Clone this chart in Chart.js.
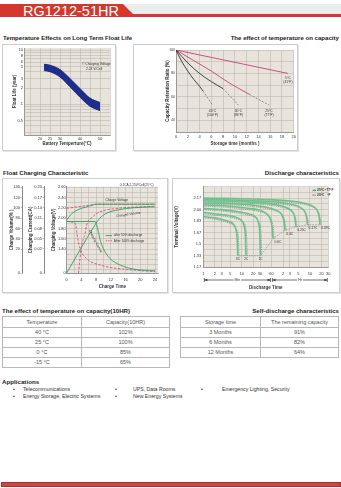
<!DOCTYPE html>
<html>
<head>
<meta charset="utf-8">
<script src="https://cdn.jsdelivr.net/npm/chart.js@4.4.1/dist/chart.umd.min.js"></script>
<style>
  body { margin: 0; width: 341px; height: 488px; position: relative; overflow: hidden; background: #fff;
         font-family: "Liberation Sans", Arial, sans-serif; color: #222; }
  .a { position: absolute; }
  .grey-bar { left: 0; top: 4px; width: 341px; height: 10px; background: #ececec; }
  .red-bar { left: 0; top: 4px; width: 341px; height: 13px; background: #d6372c;
             clip-path: polygon(0 0, 123px 0, 133px 10px, 341px 10px, 341px 13px, 0 13px); }
  .model { left: 23px; top: 3.5px; font-size: 14.5px; line-height: 15px; color: #fff; }
  .sec { font-size: 6.1px; font-weight: bold; white-space: nowrap; line-height: 7px; }
  .box { border: 1px solid #cdcdcd; box-shadow: 1px 1px 0 #e4e4e4; background: #fff; box-sizing: border-box; }
  canvas { position: absolute; }
  table { position: absolute; border-collapse: collapse; font-size: 5.5px; color: #555; border: 1px solid #999; }
  td { border: 1px solid #b8b8b8; text-align: center; padding: 0; height: 9px; line-height: 9px; }
  .app { font-size: 5.2px; color: #333; white-space: nowrap; line-height: 7px; }
  .foot { left: 1px; top: 482px; width: 338px; height: 3px; background: #cf4444; border: 1px solid #a83030; }
</style>
</head>
<body>
<div class="a grey-bar"></div>
<div class="a red-bar"></div>
<div class="a model">RG1212-51HR</div>

<div class="a sec" style="left:3px;top:34px">Temperature Effects on Long Term Float Life</div>
<div class="a sec" style="right:2px;top:34px">The effect of temperature on capacity</div>
<div class="a box" style="left:2px;top:44px;width:114px;height:107px"></div>
<div class="a box" style="left:133px;top:44px;width:165px;height:107px"></div>
<canvas id="life" width="114" height="107" style="left:2px;top:44px"></canvas>
<canvas id="retention" width="165" height="107" style="left:133px;top:44px"></canvas>

<div class="a sec" style="left:3px;top:168.5px">Float Charging Characteristic</div>
<div class="a sec" style="right:2px;top:168.5px">Discharge characteristics</div>
<div class="a box" style="left:2px;top:178px;width:166px;height:115px"></div>
<div class="a box" style="left:172px;top:178px;width:168px;height:115px"></div>
<canvas id="charging" width="166" height="116" style="left:2px;top:177px"></canvas>
<canvas id="discharge" width="168" height="116" style="left:172px;top:177px"></canvas>

<div class="a sec" style="left:2px;top:307px">The effect of temperature on capacity(10HR)</div>
<div class="a sec" style="right:2px;top:307px">Self-discharge characteristics</div>
<table id="tempTable" style="left:2px;top:316px;width:168px"></table>
<table id="selfTable" style="left:180px;top:316px;width:159px"></table>

<div class="a sec" style="left:2px;top:378px;font-size:6.2px">Applications</div>
<div id="apps"></div>
<div class="a foot"></div>

<script>
// ---------- data ----------
// float life band (years) vs battery temperature
const lifeTemp = [22, 25, 30, 35, 40, 45, 50];
const lifeHigh = [5.5, 5.3, 4.4, 3.0, 1.95, 1.3, 1.08];
const lifeLow = [4.2, 4.0, 3.2, 2.1, 1.35, 0.92, 0.76];
const lifeXLabels = [20, 25, 30, 40, 50];
const lifeYLabels = [0.5, 1, 2, 3, 5, 6, 8, 10];

// capacity retention (%) vs storage months
const r40Months = [0, 1, 2, 3, 4, 4.6], r40Solid = [100, 90, 82, 75, 69, 65];
const r40DashMonths = [4.6, 6.2], r40Dash = [65, 53];
const r30Months = [0, 2, 4, 6, 8], r30Solid = [100, 89, 80, 73, 67];
const r30DashMonths = [8, 10.6], r30Dash = [67, 53];
const r25Months = [0, 3, 6, 9, 12.5], r25Solid = [100, 91, 82, 72, 62];
const r25DashMonths = [12.5, 15.8], r25Dash = [62, 53];
const r5Months = [0, 19], r5Solid = [100, 80];
const retLabels = ["40°C\n(104°F)", "30°C\n(86°F)", "25°C\n(77°F)", "5°C\n(41°F)"];

// float charging: hours, voltage (V/cell), current (CA), charged volume (%)
const chgHours50V = [0, 1, 2, 3, 4, 5, 6, 7, 8, 24];
const chgVolt50 = [1.96, 2.06, 2.12, 2.16, 2.19, 2.21, 2.23, 2.25, 2.27, 2.27];
const chgHours100V = [0, 2, 4, 6, 8, 24];
const chgVolt100 = [2.19, 2.21, 2.23, 2.25, 2.27, 2.27];
const chgHours50I = [0, 7.7, 8.5, 9, 9.9, 11.8, 14.5, 18, 24];
const chgCurr50 = [0.1, 0.1, 0.075, 0.05, 0.022, 0.012, 0.0067, 0.0033, 0.0018];
const chgHours100I = [0, 2.3, 3, 3.6, 5.4, 9, 18, 24];
const chgCurr100 = [0.1, 0.095, 0.05, 0.022, 0.012, 0.0067, 0.0025, 0.0012];
const chgHours50Q = [0, 7.7, 9, 11, 14, 18, 24];
const chgVol50 = [0, 67, 80, 90, 96, 100, 102];
const chgHours100Q = [3.2, 4, 5, 5.4, 7, 9, 14, 24];
const chgVol100 = [0, 25, 50, 66, 82, 92, 99, 103];

// discharge: minutes / volts per cell, one list per rate
const dcRates = ["3C", "2C", "1C", "0.6C", "0.4C", "0.25C", "0.17C", "0.09C"];
const dc25 = [
  [[1,1.90],[2,1.88],[3,1.86],[4.5,1.83],[6,1.79],[7,1.72],[7.6,1.58],[7.9,1.33]],
  [[1,1.96],[2,1.94],[4,1.92],[7,1.89],[10,1.84],[11.5,1.77],[12.5,1.60],[12.9,1.33]],
  [[1,2.02],[3,2.00],[8,1.97],[15,1.94],[22,1.90],[27,1.82],[29.5,1.65],[30.5,1.33]],
  [[1,2.07],[5,2.05],[15,2.02],[30,1.99],[45,1.94],[56,1.86],[62,1.74],[65,1.58]],
  [[1,2.10],[10,2.08],[40,2.04],[80,1.99],[110,1.93],[124,1.85],[131,1.76],[134,1.70]],
  [[1,2.13],[15,2.11],[80,2.07],[160,2.02],[215,1.96],[240,1.89],[252,1.81],[258,1.75]],
  [[1,2.15],[20,2.13],[150,2.09],[320,2.04],[430,1.98],[480,1.91],[502,1.84],[512,1.78]],
  [[1,2.17],[30,2.15],[300,2.11],[650,2.06],[900,2.00],[1010,1.93],[1065,1.85],[1090,1.78]]
];
const dc20 = [
  [[1,1.88],[2,1.86],[3,1.84],[4.5,1.81],[6,1.78],[7.2,1.72],[8.2,1.58],[8.5,1.33]],
  [[1,1.94],[2,1.92],[4,1.90],[7,1.87],[10.5,1.83],[12.5,1.76],[13.5,1.60],[14,1.33]],
  [[1,2.00],[3,1.98],[8,1.95],[15,1.92],[23,1.88],[29,1.80],[32,1.65],[33,1.33]],
  [[1,2.05],[5,2.03],[15,2.00],[30,1.97],[48,1.92],[60,1.84],[67,1.72],[70,1.57]],
  [[1,2.08],[10,2.06],[40,2.02],[85,1.97],[118,1.91],[133,1.83],[140,1.75],[143,1.69]],
  [[1,2.11],[15,2.09],[80,2.05],[170,2.00],[228,1.94],[255,1.87],[268,1.80],[274,1.74]],
  [[1,2.13],[20,2.11],[150,2.07],[340,2.02],[455,1.96],[510,1.89],[535,1.83],[545,1.77]],
  [[1,2.15],[30,2.13],[300,2.09],[690,2.04],[960,1.98],[1080,1.91],[1140,1.84],[1165,1.77]]
];
const dcCutoff = [[8,1.33],[13,1.33],[31,1.33],[66,1.58],[134,1.70],[258,1.75],[512,1.78],[1090,1.78]];
const dcTicks = [1, 2, 3, 5, 10, 20, 30, 60, 120, 180, 300, 600, 1200, 1800];
const dcTickText = ["1", "2", "3", "5", "10", "20", "30", "60", "2", "3", "5", "10", "20", "30"];

// tables
const tempRows = [["40 °C", "102%"], ["25 °C", "100%"], ["0 °C", "85%"], ["-15 °C", "65%"]];
const selfRows = [["3 Months", "91%"], ["6 Months", "82%"], ["12 Months", "64%"]];
const apps = [["Telecommunications", "UPS, Data Rooms", "Emergency Lighting, Security"],
              ["Energy Storage, Electric Systems", "New Energy Systems"]];

// ---------- helpers ----------
const FONT = '"Liberation Sans", Arial, sans-serif';
const PLOT_BG = "#e8e4dc";
const GRID = "#b4b0a8";
Chart.defaults.font.family = FONT;
Chart.defaults.color = "#333";
Chart.defaults.animation = false;
Chart.defaults.plugins.legend.display = false;
Chart.defaults.plugins.tooltip.enabled = false;
Chart.defaults.elements.point.radius = 0;

const plotBg = {
  id: "plotBg",
  beforeDraw(chart) {
    const a = chart.chartArea, ctx = chart.ctx;
    ctx.save();
    ctx.fillStyle = PLOT_BG;
    ctx.fillRect(a.left, a.top, a.right - a.left, a.bottom - a.top);
    ctx.restore();
  }
};

const notes = {
  id: "notes",
  afterDraw(chart, args, opts) {
    const ctx = chart.ctx;
    (opts.items || []).forEach(n => {
      const xs = chart.scales[n.xAxis || "x"], ys = chart.scales[n.yAxis || "y"];
      const px = v => xs.getPixelForValue(v);
      const py = v => n.below != null ? chart.chartArea.bottom + n.below : ys.getPixelForValue(v);
      ctx.save();
      ctx.strokeStyle = ctx.fillStyle = n.color || "#333";
      ctx.lineWidth = n.width || 0.7;
      if (n.line) {
        ctx.setLineDash(n.dash || []);
        ctx.beginPath();
        ctx.moveTo(px(n.line[0]), py(n.line[1]));
        ctx.lineTo(px(n.line[2]), py(n.line[3]));
        ctx.stroke();
        ctx.setLineDash([]);
      }
      if (n.arrow) {
        const x1 = px(n.arrow[0]) + 1, x2 = px(n.arrow[1]) - 1, y = py(0);
        ctx.beginPath();
        ctx.moveTo(x1, y); ctx.lineTo(x2, y);
        ctx.moveTo(x1, y - 2); ctx.lineTo(x1, y + 2);
        ctx.moveTo(x2, y - 2); ctx.lineTo(x2, y + 2);
        ctx.stroke();
        ctx.beginPath();
        ctx.moveTo(x1, y); ctx.lineTo(x1 + 3, y - 1.3); ctx.lineTo(x1 + 3, y + 1.3);
        ctx.moveTo(x2, y); ctx.lineTo(x2 - 3, y - 1.3); ctx.lineTo(x2 - 3, y + 1.3);
        ctx.fill();
      }
      if (n.text) {
        const size = n.size || 3.5;
        ctx.font = (n.bold ? "bold " : "") + size + "px " + FONT;
        ctx.textAlign = n.align || "left";
        ctx.textBaseline = "middle";
        ctx.translate(px(n.x), py(n.y));
        ctx.rotate((n.rot || 0) * Math.PI / 180);
        n.text.split("\n").forEach((t, i) => {
          if (n.bg) {
            const w = ctx.measureText(t).width + 2;
            const left = ctx.textAlign === "center" ? -w / 2 : (ctx.textAlign === "right" ? -w : 0);
            ctx.fillStyle = n.bg;
            ctx.fillRect(left, i * size * 1.15 - size / 2 - 0.5, w, size + 1);
            ctx.fillStyle = n.color || "#333";
          }
          ctx.fillText(t, 0, i * size * 1.15);
        });
      }
      ctx.restore();
    });
  }
};
Chart.register(plotBg, notes);

const pts = (xs, ys) => xs.map((x, i) => ({x: x, y: ys[i]}));
const tickFont = {size: 4};
const titleFont = {size: 4.5, weight: "bold"};
const fixWidth = w => s => { s.width = w; };
const fixHeight = h => s => { s.height = h; };
const setTicks = list => s => { s.ticks = list.map(v => ({value: v})); };

// ---------- chart 1: float life ----------
new Chart(document.getElementById("life"), {
  type: "line",
  data: {
    datasets: [
      {data: pts(lifeTemp, lifeHigh), borderColor: "#0f1a66", borderWidth: 0.8, fill: false,
       cubicInterpolationMode: "monotone"},
      {data: pts(lifeTemp, lifeLow), borderColor: "#0f1a66", borderWidth: 0.8, fill: "-1",
       backgroundColor: "#1f2d8e", cubicInterpolationMode: "monotone"}
    ]
  },
  options: {
    responsive: false,
    layout: {padding: {top: 4, right: 6, left: 0, bottom: 0}},
    scales: {
      x: {
        type: "linear", min: 12, max: 55,
        afterBuildTicks: setTicks([15, 20, 25, 30, 35, 40, 45, 50, 55]),
        afterFit: fixHeight(16),
        ticks: {font: tickFont, padding: 1, maxRotation: 0, autoSkip: false,
                callback: v => lifeXLabels.includes(v) ? v : ""},
        grid: {color: GRID, lineWidth: 0.5, drawTicks: false},
        border: {color: "#999"},
        title: {display: true, text: "Battery Temperture(°C)", font: titleFont, padding: {top: 0, bottom: 5}}
      },
      y: {
        type: "logarithmic", min: 0.27, max: 11,
        afterBuildTicks: setTicks([0.3, 0.4, 0.5, 0.6, 0.7, 0.8, 0.9, 1, 2, 3, 4, 5, 6, 7, 8, 9, 10]),
        afterFit: fixWidth(22),
        ticks: {font: tickFont, padding: 1, autoSkip: false,
                callback: v => lifeYLabels.includes(v) ? v : ""},
        grid: {color: GRID, lineWidth: 0.5, drawTicks: false},
        border: {color: "#999"},
        title: {display: true, text: "Float Life (year)", font: titleFont, padding: {top: 10, bottom: 0}}
      }
    },
    plugins: {
      notes: {items: [
        {x: 41, y: 5.6, text: "© Charging Voltage", size: 3.3},
        {x: 43, y: 4.4, text: "2.23 V/Cell", size: 3.3}
      ]}
    }
  }
});

// ---------- chart 2: capacity retention ----------
const pink = "#c8407a", dark = "#333";
const solidLine = (m, v, c) => ({data: pts(m, v), borderColor: c, borderWidth: 0.9, cubicInterpolationMode: "monotone"});
const dashLine = (m, v) => ({data: pts(m, v), borderColor: "#666", borderWidth: 0.7, borderDash: [2, 1.5]});
new Chart(document.getElementById("retention"), {
  type: "line",
  data: {
    datasets: [
      solidLine(r40Months, r40Solid, dark), dashLine(r40DashMonths, r40Dash),
      solidLine(r30Months, r30Solid, dark), dashLine(r30DashMonths, r30Dash),
      solidLine(r25Months, r25Solid, pink), dashLine(r25DashMonths, r25Dash),
      solidLine(r5Months, r5Solid, pink)
    ]
  },
  options: {
    responsive: false,
    layout: {padding: {top: 6, right: 4, left: 31, bottom: 0}},
    scales: {
      x: {
        type: "linear", min: 0, max: 20,
        afterBuildTicks: setTicks([0, 2, 4, 6, 8, 10, 12, 14, 16, 18, 20]),
        afterFit: fixHeight(19),
        ticks: {font: tickFont, padding: 2, maxRotation: 0, autoSkip: false},
        grid: {color: GRID, lineWidth: 0.5, drawTicks: false},
        border: {color: "#999"},
        title: {display: true, text: "Storage time (months )", font: titleFont, padding: {top: 0, bottom: 5}}
      },
      y: {
        type: "linear", min: 30, max: 100,
        afterBuildTicks: setTicks([30, 40, 50, 60, 70, 80, 90, 100]),
        afterFit: fixWidth(12),
        ticks: {font: {size: 3.5}, padding: 1, autoSkip: false,
                callback: v => [100, 80, 60, 40].includes(v) ? v : ""},
        grid: {color: GRID, lineWidth: 0.5, drawTicks: false},
        border: {color: "#999"},
        title: {display: true, text: "Capacity Retention Ratio (%)", font: titleFont, padding: {top: 1, bottom: 0}}
      }
    },
    plugins: {
      notes: {items: [
        {x: r40DashMonths[1], y: 48, text: retLabels[0], align: "center", size: 3.3},
        {x: r30DashMonths[1], y: 48, text: retLabels[1], align: "center", size: 3.3},
        {x: r25DashMonths[1], y: 48, text: retLabels[2], align: "center", size: 3.3},
        {x: r5Months[1], y: 76, text: retLabels[3], align: "center", size: 3.3}
      ]}
    }
  }
});

// ---------- chart 3: float charging ----------
const VMIN = 0.934, VMAX = 2.61, QMIN = -26.6, QMAX = 141, IMIN = -0.05, IMAX = 0.2015;
// axis is broken below its lowest labelled value: squeeze 0..lo into the bottom gap
const brk = (v, lo, min) => v >= lo ? v : min + (v / lo) * (lo - min);
const green = "#2f9e5a", rose = "#d2507e";
const chgLine = (xs, ys, axis, dashed) => ({
  data: pts(xs, ys), yAxisID: axis, borderColor: dashed ? rose : green,
  borderWidth: 0.9, borderDash: dashed ? [2.5, 1.5] : [], cubicInterpolationMode: "monotone"
});
new Chart(document.getElementById("charging"), {
  type: "line",
  data: {
    datasets: [
      chgLine(chgHours50V, chgVolt50, "volt", false),
      chgLine(chgHours100V, chgVolt100, "volt", true),
      chgLine(chgHours50I, chgCurr50.map(v => brk(v, 0.02, IMIN)), "curr", false),
      chgLine(chgHours100I, chgCurr100.map(v => brk(v, 0.02, IMIN)), "curr", true),
      chgLine(chgHours50Q, chgVol50.map(v => brk(v, 20, QMIN)), "vol", false),
      chgLine(chgHours100Q, chgVol100.map(v => brk(v, 20, QMIN)), "vol", true)
    ]
  },
  options: {
    responsive: false,
    layout: {padding: {top: 9.7, right: 10, left: 0, bottom: 0}},
    scales: {
      x: {
        type: "linear", min: 0, max: 24.8,
        afterBuildTicks: setTicks([0, 2, 4, 6, 8, 10, 12, 14, 16, 18, 20, 22, 24]),
        afterFit: fixHeight(20),
        ticks: {font: tickFont, padding: 4, maxRotation: 0, autoSkip: false,
                callback: v => v % 4 === 0 ? v : ""},
        grid: {color: GRID, lineWidth: 0.5, drawTicks: false},
        border: {color: "#999"},
        title: {display: true, text: "Charge Time", font: titleFont, padding: {top: 0, bottom: 3.6}}
      },
      volt: {
        type: "linear", position: "left", weight: 0, min: VMIN, max: VMAX,
        afterBuildTicks: setTicks([VMIN, 1.0, 1.1, 1.2, 1.3, 1.4, 1.5, 1.6, 1.7, 1.8, 1.9, 2.0, 2.1, 2.2, 2.3, 2.4, 2.5, 2.6]),
        afterFit: fixWidth(22.7),
        ticks: {font: tickFont, padding: 1, autoSkip: false,
                callback: v => v === VMIN ? "0" : (Math.round(v * 10) % 2 === 0 && v >= 1.39 ? v.toFixed(2) : "")},
        grid: {color: GRID, lineWidth: 0.5, drawTicks: false},
        border: {color: "#999"},
        title: {display: true, text: "Charging Voltage(V)", font: titleFont, padding: {top: 6.6, bottom: 0}}
      },
      curr: {
        type: "linear", position: "left", weight: 1, min: IMIN, max: IMAX,
        afterBuildTicks: setTicks([IMIN, 0.02, 0.05, 0.08, 0.11, 0.14, 0.17, 0.20]),
        afterFit: fixWidth(22),
        ticks: {font: tickFont, padding: 0.5, autoSkip: false,
                callback: v => v === IMIN ? "0" : v.toFixed(2)},
        grid: {drawOnChartArea: false, drawTicks: true, tickLength: 1.5, color: "#888", lineWidth: 0.5},
        border: {color: "#888"},
        title: {display: true, text: "Charging Current(CA)", font: titleFont, padding: {top: 6, bottom: 0}}
      },
      vol: {
        type: "linear", position: "left", weight: 2, min: QMIN, max: QMAX,
        afterBuildTicks: setTicks([QMIN, 20, 40, 60, 80, 100, 120, 140]),
        afterFit: fixWidth(20),
        ticks: {font: tickFont, padding: 0.5, autoSkip: false,
                callback: v => v === QMIN ? "0" : v},
        grid: {drawOnChartArea: false, drawTicks: true, tickLength: 1.5, color: "#888", lineWidth: 0.5},
        border: {color: "#888"},
        title: {display: true, text: "Charge Volume(% )", font: titleFont, padding: {top: 7, bottom: 0}}
      }
    },
    plugins: {
      notes: {items: [
        {x: 19, y: 2.64, yAxis: "volt", text: "0.1CA,2.25V/Cell(25°C)", align: "center", size: 3.2},
        {x: 13.6, y: 2.35, yAxis: "volt", text: "Charge Voltage", align: "center", size: 3.3},
        {x: 16.7, y: 2.07, yAxis: "volt", text: "Charged Volume", align: "center", size: 3.3, rot: -8},
        {x: 7.8, y: 1.55, yAxis: "volt", text: "Charging Current", align: "center", size: 3.3, rot: 62},
        {line: [10.6, 1.66, 12.3, 1.66], yAxis: "volt", color: green, width: 0.9},
        {x: 12.8, y: 1.66, yAxis: "volt", text: "after 50% discharge", size: 3.2},
        {line: [10.6, 1.56, 12.3, 1.56], yAxis: "volt", color: rose, width: 0.9, dash: [1.5, 1]},
        {x: 12.8, y: 1.56, yAxis: "volt", text: "After 100% discharge", size: 3.2}
      ]}
    }
  }
});

// ---------- chart 4: discharge ----------
const dcSets = [];
dc25.forEach(c => dcSets.push({data: c.map(p => ({x: p[0], y: p[1]})), borderColor: "#6cc28a",
  borderWidth: 1.6, cubicInterpolationMode: "monotone"}));
dc20.forEach(c => dcSets.push({data: c.map(p => ({x: p[0], y: p[1]})), borderColor: "#7a7a7a",
  borderWidth: 0.7, borderDash: [1.2, 1], cubicInterpolationMode: "monotone"}));
dcSets.push({data: dcCutoff.map(p => ({x: p[0], y: p[1]})), borderColor: "#777", borderWidth: 0.6,
  borderDash: [1.5, 1.2]});

const dcNotes = dcRates.map((r, i) => {
  const end = dcCutoff[i];
  return i < 3 ? {x: end[0], y: 1.28, text: r, align: "center", size: 3.3}
               : {x: end[0] * 1.08, y: end[1] - 0.05, text: r, align: "left", size: 3.3};
});
new Chart(document.getElementById("discharge"), {
  type: "line",
  data: {datasets: dcSets},
  options: {
    responsive: false,
    layout: {padding: {top: 9.7, right: 11.7, left: 0, bottom: 0}},
    scales: {
      x: {
        type: "logarithmic", min: 1, max: 1800,
        afterBuildTicks: setTicks(dcTicks),
        afterFit: fixHeight(26),
        ticks: {font: tickFont, padding: 4, maxRotation: 0, autoSkip: false,
                callback: (v, i) => dcTickText[i]},
        grid: {color: GRID, lineWidth: 0.5, drawTicks: false},
        border: {color: "#999"},
        title: {display: true, text: "Discharge Time", font: titleFont, padding: {top: 0, bottom: 3}}
      },
      y: {
        type: "linear", min: 7 / 6, max: 14 / 6,
        afterBuildTicks: setTicks([14, 15, 16, 17, 18, 19, 20, 21, 22, 23, 24, 25, 26, 27, 28].map(k => k / 12)),
        afterFit: fixWidth(31.3),
        ticks: {font: tickFont, padding: 2, autoSkip: false,
                callback: (v, i) => i % 2 === 0 && i < 13 ? (v === 1.5 ? "1.5" : v.toFixed(2)) : ""},
        grid: {color: GRID, lineWidth: 0.5, drawTicks: false},
        border: {color: "#999"},
        title: {display: true, text: "Terminal Voltage(V)", font: titleFont, padding: {top: 2.5, bottom: 0}}
      }
    },
    plugins: {
      notes: {items: dcNotes.concat([
        {line: [700, 2.28, 860, 2.28], color: "#4cb070", width: 1.6},
        {x: 920, y: 2.28, text: "25°C~77°F", size: 3.3, bold: true},
        {line: [700, 2.21, 860, 2.21], color: "#c03030", width: 1.2, dash: [1, 1]},
        {x: 920, y: 2.21, text: "20°C   °F", size: 3.3, bold: true},
        {arrow: [1, 60], below: 13, color: "#333"},
        {arrow: [60, 1800], below: 13, color: "#333"},
        {x: 7.7, below: 13, text: "Min", align: "center", size: 3.5, bg: "#fff"},
        {x: 330, below: 13, text: "Hr", align: "center", size: 3.5, bg: "#fff"}
      ])}
    }
  }
});

// ---------- tables & applications ----------
function fillTable(id, head, rows) {
  const t = document.getElementById(id);
  let html = "<tr><td style='height:10px'>" + head[0] + "</td><td>" + head[1] + "</td></tr>";
  rows.forEach(r => { html += "<tr><td>" + r[0] + "</td><td>" + r[1] + "</td></tr>"; });
  t.innerHTML = html;
}
fillTable("tempTable", ["Temperature", "Capacity(10HR)"], tempRows);
fillTable("selfTable", ["Storage time", "The remaining capacity"], selfRows);
document.querySelector("#tempTable td").style.width = "78px";
document.querySelector("#selfTable td").style.width = "79px";

const bulletX = [13, 115, 201], textX = [23, 133, 222];
let appHtml = "";
apps.forEach((row, r) => row.forEach((txt, c) => {
  const top = 386 + r * 7;
  appHtml += "<div class='a app' style='left:" + bulletX[c] + "px;top:" + top + "px'>•</div>";
  appHtml += "<div class='a app' style='left:" + textX[c] + "px;top:" + top + "px'>" + txt + "</div>";
}));
document.getElementById("apps").innerHTML = appHtml;
</script>
</body>
</html>
